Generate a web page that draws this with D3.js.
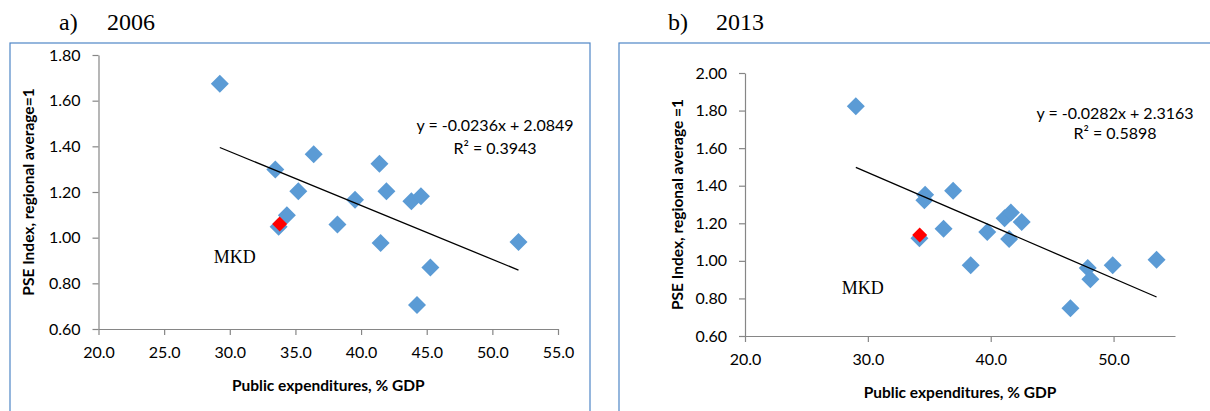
<!DOCTYPE html>
<html>
<head>
<meta charset="utf-8">
<script src="https://cdn.jsdelivr.net/npm/d3@7/dist/d3.min.js"></script>
<style>
  html, body { margin: 0; padding: 0; background: #ffffff; }
  svg { display: block; }
</style>
</head>
<body>
<svg id="chart" width="1210" height="411"></svg>
<script>
// ---------------- DATA ----------------
// Panel a) 2006
const x2006 = [29.24, 33.47, 36.39, 35.22, 34.35, 33.72, 38.20, 39.54, 41.40, 41.93, 41.49, 43.83, 44.56, 45.28, 51.99, 44.26];
const y2006 = [1.674, 1.298, 1.365, 1.203, 1.098, 1.048, 1.058, 1.166, 1.324, 1.203, 0.977, 1.159, 1.181, 0.869, 0.981, 0.705];
const mkd2006 = [33.80, 1.060];
const trend2006 = [-0.0236, 2.0849];
const eq2006 = ["y = -0.0236x + 2.0849", "R² = 0.3943"];
const xTicks2006 = [20, 25, 30, 35, 40, 45, 50, 55];
const yTicks2006 = [0.6, 0.8, 1.0, 1.2, 1.4, 1.6, 1.8];

// Panel b) 2013
const x2013 = [29.02, 34.66, 34.60, 36.94, 36.16, 34.20, 38.37, 39.72, 41.13, 41.64, 41.50, 42.52, 47.90, 48.11, 49.93, 53.50, 46.49];
const y2013 = [1.823, 1.352, 1.322, 1.373, 1.171, 1.120, 0.976, 1.153, 1.227, 1.257, 1.116, 1.207, 0.962, 0.902, 0.977, 1.006, 0.748];
const mkd2013 = [34.22, 1.137];
const trend2013 = [-0.0282, 2.3163];
const eq2013 = ["y = -0.0282x + 2.3163", "R² = 0.5898"];
const xTicks2013 = [20, 30, 40, 50];
const yTicks2013 = [0.6, 0.8, 1.0, 1.2, 1.4, 1.6, 1.8, 2.0];

const panelTitles = ["a)", "2006", "b)", "2013"];
const yTitles = ["PSE Index, regional average=1", "PSE Index, regional average =1"];
const xTitle = "Public expenditures, % GDP";
const mkdLabel = "MKD";

// ---------------- DRAW ----------------
const svg = d3.select("#chart");
const SANS = "Lato, 'Open Sans', sans-serif";
const SERIF = "'Liberation Serif', 'DejaVu Serif', serif";
const BLUE = "#5B9BD5";
const AXIS = "#868686";

function diamond(r) {
  const p = d3.path();
  p.moveTo(0, -r); p.lineTo(r, 0); p.lineTo(0, r); p.lineTo(-r, 0); p.closePath();
  return p.toString();
}

function panel(cfg) {
  const g = svg.append("g");
  // frame
  g.append("rect")
    .attr("x", cfg.frame[0]).attr("y", cfg.frame[1])
    .attr("width", cfg.frame[2]).attr("height", cfg.frame[3])
    .attr("fill", "none").attr("stroke", "#4F86C6").attr("stroke-width", 1.2);

  // panel titles
  g.append("text").attr("x", cfg.titleX[0]).attr("y", 30)
    .attr("font-family", SERIF).attr("font-size", 24).attr("fill", "#000").text(cfg.title[0]);
  g.append("text").attr("x", cfg.titleX[1]).attr("y", 30)
    .attr("font-family", SERIF).attr("font-size", 24).attr("fill", "#000").text(cfg.title[1]);

  const x = d3.scaleLinear().domain([20, 55]).range([cfg.plot.left, cfg.plot.right]);
  const y = d3.scaleLinear().domain(cfg.yDomain).range([cfg.plot.bottom, cfg.plot.top]);

  const fmt = d3.format(".2f");
  const fmtx = d3.format(".1f");

  const yAxis = g.append("g").attr("transform", `translate(${cfg.plot.left},0)`)
    .call(d3.axisLeft(y).tickValues(cfg.yTicks).tickFormat(fmt).tickSize(6).tickSizeOuter(0).tickPadding(12));
  const xAxis = g.append("g").attr("transform", `translate(0,${cfg.plot.bottom})`)
    .call(d3.axisBottom(x).tickValues(cfg.xTicks).tickFormat(fmtx).tickSize(6).tickSizeOuter(0).tickPadding(12));
  [yAxis, xAxis].forEach(a => {
    a.select(".domain").attr("stroke", AXIS).attr("stroke-width", 1.2);
    a.selectAll(".tick line").attr("stroke", AXIS).attr("stroke-width", 1.2);
    a.selectAll(".tick text").attr("font-family", SANS).attr("font-size", 16).attr("fill", "#000");
  });

  // axis titles
  g.append("text")
    .attr("transform", `translate(${cfg.yTitleX},${(cfg.plot.top + cfg.plot.bottom) / 2}) rotate(-90)`)
    .attr("text-anchor", "middle").attr("dy", "0.35em")
    .attr("font-family", SANS).attr("font-weight", "bold").attr("font-size", 15.5).attr("fill", "#000")
    .text(cfg.yTitle);
  g.append("text")
    .attr("x", (cfg.plot.left + cfg.plot.right) / 2).attr("y", cfg.plot.bottom + 62)
    .attr("text-anchor", "middle")
    .attr("font-family", SANS).attr("font-weight", "bold").attr("font-size", 15.5).attr("fill", "#000")
    .text(xTitle);

  // points
  const pts = cfg.xs.map((v, i) => [v, cfg.ys[i]]);
  g.append("g").selectAll("path").data(pts).join("path")
    .attr("d", diamond(9))
    .attr("transform", d => `translate(${x(d[0])},${y(d[1])})`)
    .attr("fill", BLUE);

  // trend line
  const xmin = d3.min(cfg.xs), xmax = d3.max(cfg.xs);
  const line = d3.line().x(d => x(d)).y(d => y(cfg.trend[0] * d + cfg.trend[1]));
  g.append("path").datum([xmin, xmax]).attr("d", line)
    .attr("fill", "none").attr("stroke", "#000").attr("stroke-width", 1.3);

  // red MKD marker
  g.append("path").attr("d", diamond(7.5))
    .attr("transform", `translate(${x(cfg.mkd[0])},${y(cfg.mkd[1])})`)
    .attr("fill", "#FF0000");
  g.append("text")
    .attr("x", x(cfg.mkd[0]) + cfg.mkdOff[0]).attr("y", y(cfg.mkd[1]) + cfg.mkdOff[1])
    .attr("font-family", SERIF).attr("font-size", 18).attr("fill", "#000")
    .text(mkdLabel);

  // equation
  g.append("text").attr("x", cfg.eqX).attr("y", cfg.eqY[0]).attr("text-anchor", "middle")
    .attr("font-family", SANS).attr("font-size", 16).attr("fill", "#000").text(cfg.eq[0]);
  g.append("text").attr("x", cfg.eqX).attr("y", cfg.eqY[1]).attr("text-anchor", "middle")
    .attr("font-family", SANS).attr("font-size", 16).attr("fill", "#000").text(cfg.eq[1]);
}

panel({
  frame: [10, 43, 580, 400],
  title: [panelTitles[0], panelTitles[1]], titleX: [59, 107],
  plot: { left: 98.5, right: 558, top: 55, bottom: 329 },
  yDomain: [0.6, 1.8],
  xTicks: xTicks2006, yTicks: yTicks2006,
  yTitle: yTitles[0], yTitleX: 29,
  xs: x2006, ys: y2006, mkd: mkd2006, trend: trend2006,
  mkdOff: [-66, 39],
  eq: eq2006, eqX: 495, eqY: [131, 154]
});

panel({
  frame: [619, 43, 620, 400],
  title: [panelTitles[2], panelTitles[3]], titleX: [668, 716],
  plot: { left: 745, right: 1175, top: 73, bottom: 336 },
  yDomain: [0.6, 2.0],
  xTicks: xTicks2013, yTicks: yTicks2013,
  yTitle: yTitles[1], yTitleX: 678,
  xs: x2013, ys: y2013, mkd: mkd2013, trend: trend2013,
  mkdOff: [-78, 59],
  eq: eq2013, eqX: 1115, eqY: [119, 139]
});
</script>
</body>
</html>
